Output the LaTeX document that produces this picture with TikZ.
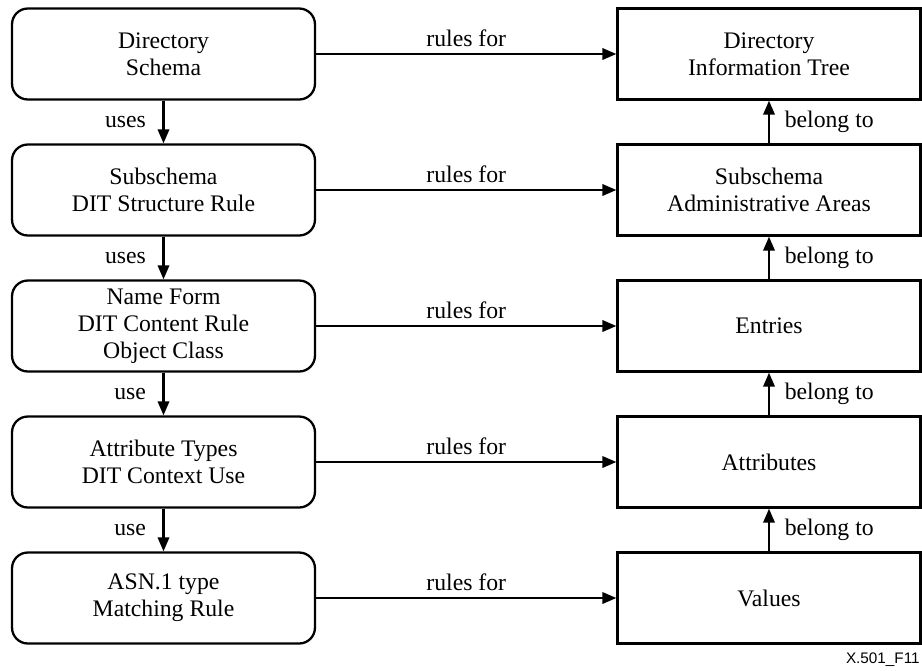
\documentclass[tikz,border=0pt]{standalone}
\usepackage{fontspec}
\setmainfont{Liberation Serif}
\newfontfamily\figsans{Liberation Sans}
\usetikzlibrary{arrows.meta}

\begin{document}
\begin{tikzpicture} [x = 0.02cm, y = -0.02cm,
        font = \fontsize{13.5}{15.5}\selectfont,
        regel/.style = {draw, line width = 1.3pt, rounded corners = 9pt,
            minimum width = 6.06cm, minimum height = 1.82cm, align = center, inner sep = 0},
        menge/.style = {draw, line width = 1.3pt,
            minimum width = 6.06cm, minimum height = 1.82cm, align = center, inner sep = 0},
        pfeil/.style = {line width = 1.3pt, -{Triangle[length = 8pt, width = 6.5pt]}}]
    \useasboundingbox (0, 0) rectangle (922, 670);

    % Regeln (links)
    \node [regel] (schema) at (163.5, 54)  {Directory\\Schema};
    \node [regel] (sub)    at (163.5, 190) {Subschema\\DIT Structure Rule};
    \node [regel] (name)   at (163.5, 326) {Name Form\\DIT Content Rule\\Object Class};
    \node [regel] (attrt)  at (163.5, 462) {Attribute Types\\DIT Context Use};
    \node [regel] (asn)    at (163.5, 598) {ASN.1 type\\Matching Rule};

    % Informationen (rechts)
    \node [menge] (dit)     at (769, 54)  {Directory\\Information Tree};
    \node [menge] (areas)   at (769, 190) {Subschema\\Administrative Areas};
    \node [menge] (entries) at (769, 326) {Entries};
    \node [menge] (attr)    at (769, 462) {Attributes};
    \node [menge] (values)  at (769, 598) {Values};

    % rules for
    \draw[pfeil] (schema) -- node [above] {rules for} (dit);
    \draw[pfeil] (sub)    -- node [above] {rules for} (areas);
    \draw[pfeil] (name)   -- node [above] {rules for} (entries);
    \draw[pfeil] (attrt)  -- node [above] {rules for} (attr);
    \draw[pfeil] (asn)    -- node [above] {rules for} (values);

    % uses / use
    \draw[pfeil] (schema) -- node [left = 6pt] {uses} (sub);
    \draw[pfeil] (sub)    -- node [left = 6pt] {uses} (name);
    \draw[pfeil] (name)   -- node [left = 6pt] {use}  (attrt);
    \draw[pfeil] (attrt)  -- node [left = 6pt] {use}  (asn);

    % belong to
    \draw[pfeil] (areas)   -- node [right = 5pt] {belong to} (dit);
    \draw[pfeil] (entries) -- node [right = 5pt] {belong to} (areas);
    \draw[pfeil] (attr)    -- node [right = 5pt] {belong to} (entries);
    \draw[pfeil] (values)  -- node [right = 5pt] {belong to} (attr);

    % Kennung
    \node [anchor = south east, inner sep = 0, font = \figsans\fontsize{8.7}{10}\selectfont]
        (kennung) at (920, 667) {X.501\_F11};
\end{tikzpicture}
\end{document}
